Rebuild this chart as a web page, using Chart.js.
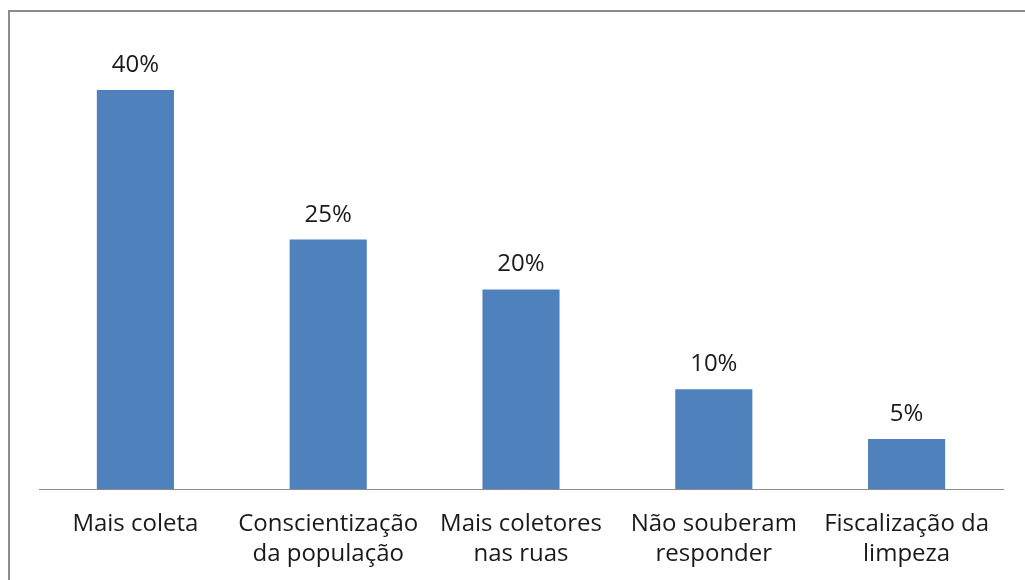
<!DOCTYPE html>
<html>
<head>
<meta charset="utf-8">
<script src="https://cdn.jsdelivr.net/npm/chart.js@4/dist/chart.umd.min.js"></script>
<style>
  html, body { margin: 0; padding: 0; background: #fff; overflow: hidden; }
  #wrap { width: 1025px; height: 580px; position: relative; overflow: hidden; }
</style>
</head>
<body>
<div id="wrap"><canvas id="c" width="1025" height="600"></canvas></div>
<script>
// Survey answers: suggestions for improving waste collection
const categories = [
  ['Mais coleta'],
  ['Conscientização', 'da população'],
  ['Mais coletores', 'nas ruas'],
  ['Não souberam', 'responder'],
  ['Fiscalização da', 'limpeza']
];
const percentages = [40, 25, 20, 10, 5];
const valueLabels = ['40%', '25%', '20%', '10%', '5%'];

const FONT = '"Open Sans", Lato, sans-serif';

// Outer frame of the chart object
const framePlugin = {
  id: 'frame',
  beforeDraw(chart) {
    const ctx = chart.ctx;
    ctx.save();
    ctx.fillStyle = '#ffffff';
    ctx.fillRect(0, 0, chart.width, chart.height);
    ctx.strokeStyle = '#8c8c8c';
    ctx.lineWidth = 2;
    ctx.strokeRect(9, 11, chart.width + 20, chart.height + 20);
    ctx.restore();
  }
};

// Percentage labels above each bar
const valueLabelPlugin = {
  id: 'valueLabels',
  afterDatasetsDraw(chart) {
    const ctx = chart.ctx;
    const meta = chart.getDatasetMeta(0);
    ctx.save();
    ctx.font = '24px ' + FONT;
    ctx.fillStyle = '#1a1a1a';
    ctx.textAlign = 'center';
    ctx.textBaseline = 'alphabetic';
    meta.data.forEach((bar, i) => {
      ctx.fillText(valueLabels[i], bar.x, bar.y - 18);
    });
    ctx.restore();
  }
};

new Chart(document.getElementById('c'), {
  type: 'bar',
  data: {
    labels: categories,
    datasets: [{
      data: percentages,
      backgroundColor: '#4f81bd',
      borderWidth: 0,
      barPercentage: 0.4,
      categoryPercentage: 1.0
    }]
  },
  options: {
    responsive: false,
    animation: false,
    devicePixelRatio: 1,
    layout: { padding: { left: 39, right: 22, top: 40, bottom: 11 } },
    plugins: {
      legend: { display: false },
      tooltip: { enabled: false }
    },
    scales: {
      y: {
        display: false,
        min: 0,
        max: 45
      },
      x: {
        grid: { display: false, drawTicks: false },
        border: { display: true, color: '#8c8c8c', width: 1 },
        ticks: {
          autoSkip: false,
          maxRotation: 0,
          minRotation: 0,
          padding: 20,
          color: '#1a1a1a',
          font: { family: FONT, size: 24, lineHeight: 1.25 }
        }
      }
    }
  },
  plugins: [framePlugin, valueLabelPlugin]
});
</script>
</body>
</html>
